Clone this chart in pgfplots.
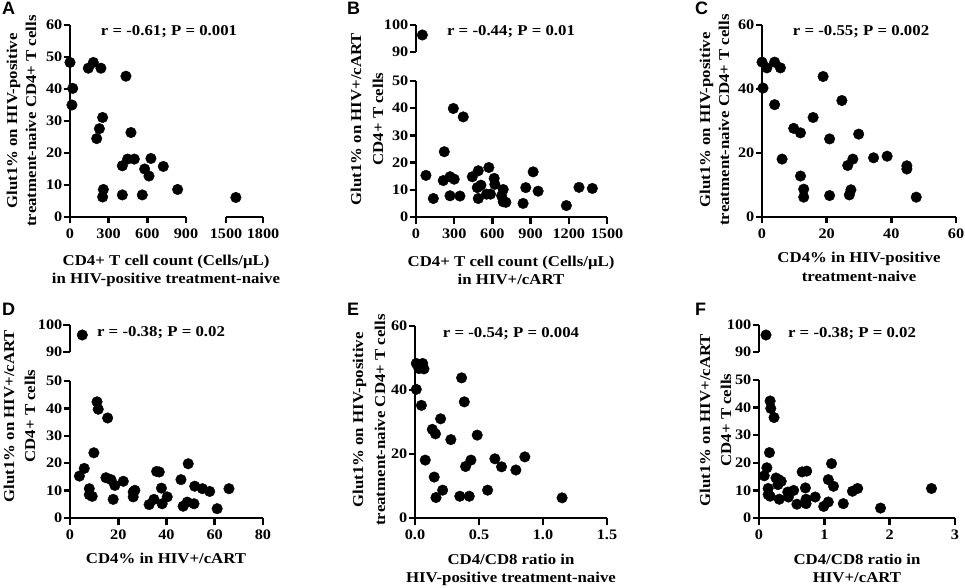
\documentclass[border=0pt]{standalone}
\usepackage{pgfplots}
\pgfplotsset{compat=1.18}
\usepackage{fontspec}
\setmainfont{Liberation Serif}[FakeStretch=1.12]
\newfontfamily\lsans{Liberation Sans}
\newcommand\lab{\fontsize{15}{18}\selectfont\bfseries}
\newcommand\tkl{\fontsize{14.5}{17}\selectfont\bfseries}
\newcommand\pl{\fontsize{18}{20}\selectfont\lsans\bfseries}
\pgfplotsset{
  gp/.style={
    scale only axis, clip=false, enlargelimits=false,
    axis line style={line width=2.5pt,-},
    every non boxed x axis/.append style={x axis line style={-}, xtick align=outside},
    every non boxed y axis/.append style={y axis line style={-}, ytick align=outside},
    ticklabel style={font=\tkl},
    xticklabel style={yshift=-2pt},
    yticklabel style={inner xsep=1pt},
    /pgf/number format/assume math mode=true,
    /pgf/number format/1000 sep={},
  },
  fin/.style={
    x axis line style={-}, y axis line style={-},
    xtick align=outside, ytick align=outside,
    major tick length=6.5pt,
    every tick/.append style={line width=2.5pt, black, solid},
    every major tick/.append style={line width=2.5pt, black},
  },
  dots/.style={only marks, mark=*, mark size=5.3pt, black},
}
\begin{document}
\begin{tikzpicture}
\path[use as bounding box] (0pt,0pt) rectangle (965pt,587pt);

% ---------------- Panel A
\begin{axis}[gp, at={(70pt,370pt)}, anchor=south west, width=116pt, height=192pt,
  xmin=0, xmax=900, ymin=0, ymax=60, axis x line=bottom, axis y line=left,
  xtick={0,300,600,900}, ytick={0,10,...,60}, fin]
\addplot[dots] coordinates {(0,48.3) (21,40.2) (15,35) (142,46.5) (181,48.3) (240,46.5) (434,44) (253,31.1) (228,27.6) (207,24.5) (473,26.4) (447,18.1) (499,18.1) (406,16) (628,18.3) (579,15) (724,15.8) (613,12.8) (259,8.6) (253,6.25) (406,6.9) (561,6.9) (835,8.6)};
\end{axis}
\begin{axis}[gp, at={(226pt,370pt)}, anchor=south west, width=37pt, height=192pt,
  xmin=1500, xmax=1800, ymin=0, ymax=60, axis x line=bottom, axis y line=none,
  xtick={1500,1800}, fin]
\addplot[dots] coordinates {(1580,6.1)};
\end{axis}

% ---------------- Panel B
\begin{axis}[gp, at={(416pt,370pt)}, anchor=south west, width=191pt, height=136pt,
  xmin=0, xmax=1500, ymin=0, ymax=50, axis x line=bottom, axis y line=left,
  xtick={0,300,...,1500}, ytick={0,10,...,50}, fin]
\addplot[dots] coordinates {(78,15.3) (136,6.8) (222,24) (214,13.4) (267,14.8) (300,13.9) (267,7.8) (293,39.9) (371,36.8) (345,7.7) (442,14.8) (489,17) (481,10.8) (510,11.7) (489,6.8) (572,18.2) (554,8.4) (585,8.4) (614,14.2) (619,12) (685,10.1) (672,7.8) (685,5.6) (706,5.4) (841,5) (862,10.8) (920,16.6) (959,9.5) (1181,4.2) (1280,10.9) (1385,10.5)};
\end{axis}
\begin{axis}[gp, at={(416pt,535pt)}, anchor=south west, width=191pt, height=27pt,
  xmin=0, xmax=1500, ymin=90, ymax=100, axis x line=none, axis y line=left,
  ytick={90,100}, fin]
\addplot[dots] coordinates {(50,96.3)};
\end{axis}

% ---------------- Panel C
\begin{axis}[gp, at={(762pt,370pt)}, anchor=south west, width=194pt, height=192pt,
  xmin=0, xmax=60, ymin=0, ymax=60, axis x line=bottom, axis y line=left,
  xtick={0,20,40,60}, ytick={0,20,40,60}, fin]
\addplot[dots] coordinates {(0,48.4) (1.5,46.6) (3.9,48.4) (5.7,46.6) (0.3,40.3) (3.9,35.1) (6.2,18.1) (9.8,27.7) (11.9,26.3) (15.8,31.1) (18.9,43.9) (24.7,36.4) (20.9,24.4) (29.9,25.9) (11.9,12.8) (12.9,8.7) (12.9,6.2) (20.9,6.7) (26.5,16.1) (28.1,18.1) (27,6.9) (27.5,8.5) (34.5,18.5) (38.7,19) (44.8,16) (44.8,15) (47.7,6.2)};
\end{axis}

% ---------------- Panel D
\begin{axis}[gp, at={(70pt,69pt)}, anchor=south west, width=193pt, height=137pt,
  xmin=0, xmax=80, ymin=0, ymax=50, axis x line=bottom, axis y line=left,
  xtick={0,20,...,80}, ytick={0,10,...,50}, fin]
\addplot[dots] coordinates {(3.9,15.3) (5.9,18.1) (8,10.7) (8,8.5) (9.2,7.9) (9.9,23.8) (11.2,42.4) (11.7,39.7) (15.6,36.5) (14.9,14.7) (17,14) (18.6,11.9) (17.9,6.8) (22.1,13.4) (26.2,9.5) (26.9,10.1) (26.2,7.7) (32.8,4.9) (34.8,6.8) (35.9,17) (37,16.8) (37.9,10.9) (38.2,5.2) (40.3,7.7) (46,14) (49,19.8) (46.9,4.3) (48.6,5.8) (51.7,11.6) (51.4,5.2) (54.9,10.7) (57.9,9.7) (61,3.4) (65.9,10.7)};
\end{axis}
\begin{axis}[gp, at={(70pt,235pt)}, anchor=south west, width=193pt, height=27pt,
  xmin=0, xmax=80, ymin=90, ymax=100, axis x line=none, axis y line=left,
  ytick={90,100}, fin]
\addplot[dots] coordinates {(5.1,96.3)};
\end{axis}

% ---------------- Panel E
\begin{axis}[gp, at={(415pt,69pt)}, anchor=south west, width=192pt, height=192pt,
  xmin=0, xmax=1.5, ymin=0, ymax=60, axis x line=bottom, axis y line=left,
  xtick={0,0.5,1,1.5}, ytick={0,20,40,60},
  xticklabel style={/pgf/number format/.cd, fixed, fixed zerofill, precision=1}, fin]
\addplot[dots] coordinates {(0.01,48.3) (0.03,46.7) (0.06,48.3) (0.07,46.6) (0.01,40.2) (0.05,35.2) (0.08,18.1) (0.135,27.7) (0.16,26.3) (0.2,31) (0.216,8.7) (0.164,6.4) (0.15,12.8) (0.28,24.5) (0.364,43.8) (0.385,36.3) (0.486,25.9) (0.395,16.1) (0.437,18.1) (0.35,6.8) (0.424,6.8) (0.567,8.7) (0.624,18.5) (0.676,16) (0.788,15) (0.858,19.1) (1.149,6.3)};
\end{axis}

% ---------------- Panel F
\begin{axis}[gp, at={(759pt,69pt)}, anchor=south west, width=196pt, height=138pt,
  xmin=0, xmax=3, ymin=0, ymax=50, axis x line=bottom, axis y line=left,
  xtick={0,1,2,3}, ytick={0,10,...,50}, fin]
\addplot[dots] coordinates {(0.08,15.3) (0.12,18.2) (0.14,10.7) (0.14,8.5) (0.17,7.9) (0.16,23.7) (0.17,42.4) (0.18,39.7) (0.23,36.4) (0.26,14.5) (0.30,13.9) (0.34,13.3) (0.29,12.1) (0.31,6.8) (0.44,9.4) (0.45,7.6) (0.53,10) (0.58,5) (0.71,10.9) (0.72,6.8) (0.72,5.2) (0.86,7.6) (0.66,16.7) (0.73,17) (0.99,4.2) (1.06,5.8) (1.06,13.9) (1.11,19.7) (1.14,11.5) (1.29,5.2) (1.43,9.7) (1.51,10.7) (1.86,3.6) (2.64,10.7)};
\end{axis}
\begin{axis}[gp, at={(759pt,235pt)}, anchor=south west, width=196pt, height=27pt,
  xmin=0, xmax=3, ymin=90, ymax=100, axis x line=none, axis y line=left,
  ytick={90,100}, fin]
\addplot[dots] coordinates {(0.107,96.3)};
\end{axis}

% ---------------- panel letters
\node[font=\pl, anchor=base west, inner sep=0] at (2pt,572pt) {A};
\node[font=\pl, anchor=base west, inner sep=0] at (347pt,572pt) {B};
\node[font=\pl, anchor=base west, inner sep=0] at (695pt,572pt) {C};
\node[font=\pl, anchor=base west, inner sep=0] at (2pt,272pt) {D};
\node[font=\pl, anchor=base west, inner sep=0] at (347pt,272pt) {E};
\node[font=\pl, anchor=base west, inner sep=0] at (695pt,272pt) {F};

% ---------------- statistics
\node[font=\lab, anchor=base, inner sep=0] at (169pt,551pt) {r = -0.61; P = 0.001};
\node[font=\lab, anchor=base, inner sep=0] at (511pt,551pt) {r = -0.44; P = 0.01};
\node[font=\lab, anchor=base, inner sep=0] at (861pt,551pt) {r = -0.55; P = 0.002};
\node[font=\lab, anchor=base, inner sep=0] at (161pt,251pt) {r = -0.38; P = 0.02};
\node[font=\lab, anchor=base, inner sep=0] at (511pt,250pt) {r = -0.54; P = 0.004};
\node[font=\lab, anchor=base, inner sep=0] at (852pt,250pt) {r = -0.38; P = 0.02};

% ---------------- x labels
\begin{scope}[every node/.style={font=\lab, anchor=base, inner sep=0}]
\node at (166pt,322pt) {CD4+ T cell count (Cells/μL)};
\node at (166pt,304pt) {in HIV-positive treatment-naive};
\node at (511pt,321pt) {CD4+ T cell count (Cells/μL)};
\node at (511pt,303pt) {in HIV+/cART};
\node at (859pt,325pt) {CD4\% in HIV-positive};
\node at (859pt,306pt) {treatment-naive};
\node at (166pt,24pt) {CD4\% in HIV+/cART};
\node at (511pt,23pt) {CD4/CD8 ratio in};
\node at (511pt,5pt) {HIV-positive treatment-naive};
\node at (857pt,23pt) {CD4/CD8 ratio in};
\node at (857pt,5pt) {HIV+/cART};
\end{scope}

% ---------------- y labels
\begin{scope}[every node/.style={font=\lab, anchor=base, inner sep=0, rotate=90}]
\node at (17pt,466pt) {Glut1\% on HIV-positive};
\node at (36pt,466pt) {treatment-naive CD4+ T cells};
\node at (361pt,468pt) {Glut1\% on HIV+/cART};
\node at (383pt,468pt) {CD4+ T cells};
\node at (710pt,467pt) {Glut1\% on HIV-positive};
\node at (729pt,467pt) {treatment-naive CD4+ T cells};
\node at (14pt,171pt) {Glut1\% on HIV+/cART};
\node at (35pt,171pt) {CD4+ T cells};
\node at (363pt,167pt) {Glut1\% on HIV-positive};
\node at (385pt,167pt) {treatment-naive CD4+ T cells};
\node at (710pt,167pt) {Glut1\% on HIV+/cART};
\node at (731pt,167pt) {CD4+ T cells};
\end{scope}
\end{tikzpicture}
\end{document}
